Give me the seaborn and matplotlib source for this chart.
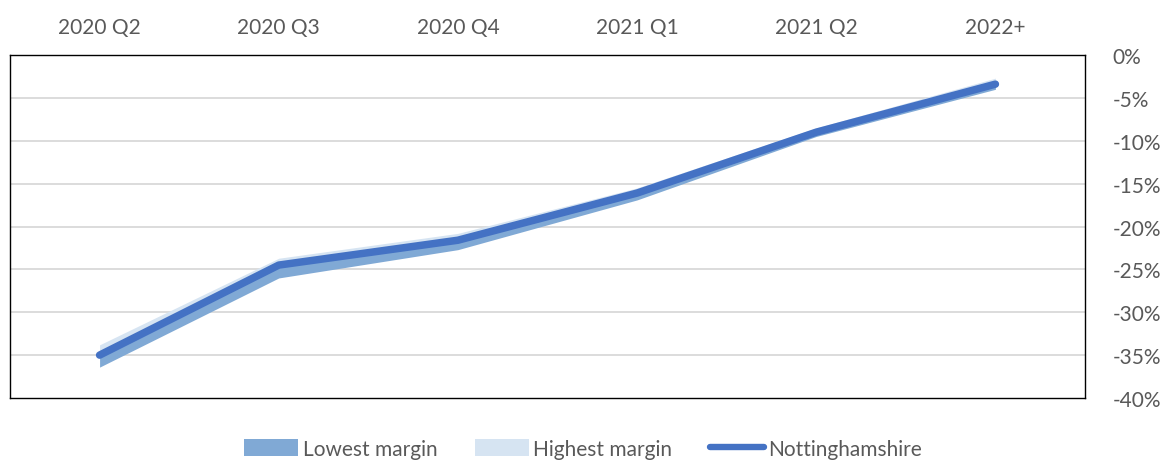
import matplotlib
matplotlib.use("Agg")
import matplotlib.pyplot as plt
import seaborn as sns
import pandas as pd
import numpy as np
from matplotlib.patches import Patch
from matplotlib.lines import Line2D

categories = ["2020 Q2", "2020 Q3", "2020 Q4", "2021 Q1", "2021 Q2", "2022+"]
nottinghamshire = [-35.0, -24.5, -21.6, -16.1, -9.0, -3.4]
lowest_margin = [-36.4, -26.0, -22.7, -16.9, -9.5, -4.0]
highest_margin = [-33.8, -23.7, -20.8, -15.5, -8.5, -2.7]
y_ticks = [0, -5, -10, -15, -20, -25, -30, -35, -40]

sns.set_theme(style="white")
plt.rcParams['font.family'] = ['Lato', 'DejaVu Sans']

df = pd.DataFrame({"x": np.arange(len(categories)), "Nottinghamshire": nottinghamshire})

fig = plt.figure(figsize=(11.66, 4.64), dpi=100)
ax = fig.add_axes([10/1166, 1-399/464, (1085-10)/1166, (399-56)/464])

dark = "#80A9D5"
light = "#D6E4F2"
linec = "#4472C4"
textc = "#595959"

x = df["x"].values
ax.fill_between(x, lowest_margin, nottinghamshire, color=dark, lw=0, zorder=2)
ax.fill_between(x, nottinghamshire, highest_margin, color=light, lw=0, zorder=2)
sns.lineplot(data=df, x="x", y="Nottinghamshire", ax=ax, color=linec, lw=5.4,
             solid_capstyle="round", zorder=3, legend=False)

ax.set_xlim(-0.5, len(categories) - 0.5)
ax.set_ylim(-40, 0)
ax.set_yticks(y_ticks)
ax.set_yticklabels([f"{t}%" for t in y_ticks])
ax.yaxis.tick_right()
ax.set_xticks(x)
ax.set_xticklabels(categories)
ax.xaxis.tick_top()
ax.tick_params(axis="both", length=0, labelsize=15, colors=textc)
ax.tick_params(axis="x", pad=13)
for lab in ax.get_yticklabels():
    lab.set_horizontalalignment("left")
ax.yaxis.set_tick_params(pad=20)
for t in y_ticks[1:-1]:
    ax.axhline(t, color="#D9D9D9", lw=1.3, zorder=1)
ax.set_xlabel("")
ax.set_ylabel("")
for s in ax.spines.values():
    s.set_visible(True)
    s.set_color("black")
    s.set_linewidth(1.0)
ax.grid(False)

handles = [Patch(facecolor=dark, edgecolor="none"),
           Patch(facecolor=light, edgecolor="none"),
           Line2D([0], [0], color=linec, lw=4.6, solid_capstyle="round")]
labels = ["Lowest margin", "Highest margin", "Nottinghamshire"]
fig.legend(handles, labels, loc="center", bbox_to_anchor=(0.5, 1-450/464), ncol=3,
           frameon=False, fontsize=15, labelcolor=textc, handlelength=2.6,
           handleheight=0.9, columnspacing=1.8, handletextpad=0.2)

fig.savefig("out.png", dpi=100)
